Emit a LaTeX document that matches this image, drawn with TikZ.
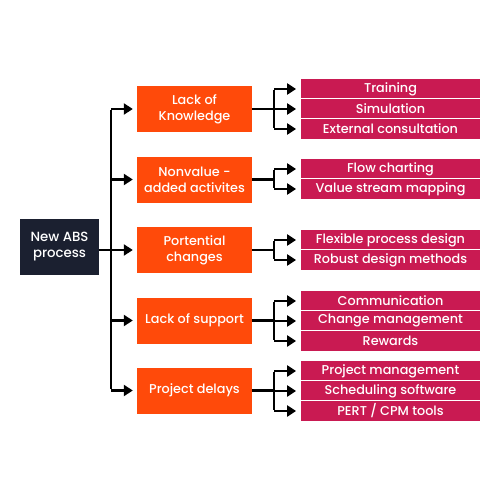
\documentclass[tikz,border=0pt]{standalone}
\usepackage{fontspec}
\IfFontExistsTF{Poppins Medium}{\setmainfont{Poppins Medium}}{\setmainfont{Poppins}[FakeBold=1.2,AutoFakeBold=1.2]}
\usetikzlibrary{arrows.meta}
\definecolor{navy}{HTML}{1B2030}
\definecolor{orng}{HTML}{FF4A0A}
\definecolor{pnk}{HTML}{C91A52}
\begin{document}
\begin{tikzpicture}[x=1pt,y=-1pt,
  rootbox/.style={fill=navy,text=white,minimum width=79pt,minimum height=56pt,align=center,font=\fontsize{13.3}{16}\selectfont,inner sep=0pt},
  catbox/.style={fill=orng,text=white,minimum width=115pt,minimum height=46pt,align=center,font=\fontsize{12.8}{16}\selectfont,inner sep=0pt},
  itembox/.style={fill=pnk,draw=white,line width=0.8pt,text=white,minimum width=180pt,minimum height=20.5pt,font=\fontsize{12.8}{14}\selectfont,inner sep=0pt},
  conn/.style={line width=2.6pt,black},
  arr/.style={line width=2.6pt,black,-{Triangle[length=9pt,width=11pt]},shorten >=4pt}]
\useasboundingbox (0,0) rectangle (500,500);
\fill[white] (0,0) rectangle (500,500);
\node[rootbox] (root) at (59.5,247) {New ABS\\process};
\node[catbox] (c1) at (194.5,109) {Lack of\\Knowledge};
\node[catbox] (c2) at (194.5,179.5) {Nonvalue -\\added activites};
\node[catbox] (c3) at (194.5,250) {Portential\\changes};
\node[catbox] (c4) at (194.5,320.5) {Lack of support};
\node[catbox] (c5) at (194.5,390.5) {Project delays};
% items
\node[itembox] (i11) at (390.5,89) {Training};
\node[itembox] (i12) at (390.5,109) {Simulation};
\node[itembox] (i13) at (390.5,129) {External consultation};
\node[itembox] (i21) at (390.5,169) {Flow charting};
\node[itembox] (i22) at (390.5,189) {Value stream mapping};
\node[itembox] (i31) at (390.5,240) {Flexible process design};
\node[itembox] (i32) at (390.5,260) {Robust design methods};
\node[itembox] (i41) at (390.5,301) {Communication};
\node[itembox] (i42) at (390.5,321) {Change management};
\node[itembox] (i43) at (390.5,341) {Rewards};
\node[itembox] (i51) at (390.5,371) {Project management};
\node[itembox] (i52) at (390.5,391) {Scheduling software};
\node[itembox] (i53) at (390.5,411) {PERT / CPM tools};
% main spine
\coordinate (sp1) at (111,109);
\coordinate (sp5) at (111,390.5);
\draw[conn] (root.east |- c3) -- (111,250);
\draw[conn] ([yshift=-1.3pt]sp1) -- ([yshift=1.3pt]sp5);
\foreach \c in {c1,c2,c3,c4,c5} {
  \draw[arr] (111,0 |- \c) -- (\c.west);
}
% branches
\foreach \c/\a/\b in {c1/i11/i13,c2/i21/i22,c3/i31/i32,c4/i41/i43,c5/i51/i53} {
  \draw[conn] (\c.east) -- (274,0 |- \c);
  \draw[conn] ([yshift=-1.3pt]274,0 |- \a) -- ([yshift=1.3pt]274,0 |- \b);
}
\foreach \i in {i11,i12,i13,i21,i22,i31,i32,i41,i42,i43,i51,i52,i53} {
  \draw[arr] (274,0 |- \i) -- (\i.west);
}
\end{tikzpicture}
\end{document}
